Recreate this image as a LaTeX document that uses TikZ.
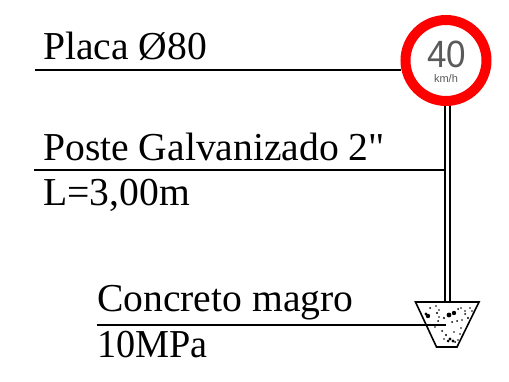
\documentclass[tikz,border=0pt]{standalone}
\usepackage{fontspec}
\newfontfamily\lblfont{Liberation Serif}
\newfontfamily\signfont{Liberation Sans}
\definecolor{signred}{RGB}{255,0,0}
\definecolor{signgrey}{RGB}{90,90,90}
\tikzset{
  lbl/.style={anchor=base west,inner sep=0pt,font=\lblfont\fontsize{39.6}{40}\selectfont,text=black},
  leader/.style={draw=black,line width=1.6pt},
  postline/.style={draw=black,line width=1.5pt},
  base/.style={draw=black,line width=1.6pt,line join=miter},
}
\begin{document}
\begin{tikzpicture}[x=1pt,y=-1pt]
\useasboundingbox[fill=white] (0,0) rectangle (509,382);
% post
\coordinate (pl1) at (445,105); \coordinate (pl2) at (445,302);
\coordinate (pr1) at (450,105); \coordinate (pr2) at (450,302);
\draw[postline] (pl1) -- (pl2);
\draw[postline] (pr1) -- (pr2);
% foundation
\coordinate (ta) at (415.5,302); \coordinate (tb) at (479,302);
\coordinate (tc) at (457,347); \coordinate (td) at (436.5,347);
\draw[base] (ta) -- (tb) -- (tc) -- (td) -- cycle;
\foreach \x/\y/\r in {430/308/1,437/313/1.1,438/321/1,428/316/2.2,426/314/1.6,449/315/2.4,454/313/2.2,444/318/1.2,
  439/317/.9,452/322/1,457/321/1,458/309/1,461/308/.9,465/314/1,468/318/1.1,461/328/.9,465/311/.8,
  442/331/1,446/335/1.1,450/339/1.7,453/341/1.6,448/341/1.5,455/342/1,458/340/.9,460/334/.9,439/310/.8,
  470/308/.8,472/311/.8,435/327/.8,454/332/.9,444/339/.8,462/320/.8,436/306/.8}{
  \fill[black] (\x,\y) circle (\r);
}
% sign
\node[circle,draw=signred,fill=white,line width=10pt,minimum size=81pt,inner sep=0pt] (sign) at (446,60.5) {};
\node[font=\signfont\fontsize{38}{38}\selectfont,text=signgrey,inner sep=0pt,xscale=.92] (speed) at (446.5,54) {40};
\node[font=\signfont\fontsize{11}{11}\selectfont,text=signgrey,inner sep=0pt] (unit) at (446,79) {km/h};
% labels
\node[lbl] (placa) at (43,60) {Placa Ø80};
\node[lbl] (poste) at (43,160.5) {Poste Galvanizado 2"};
\node[lbl] (len) at (43,206) {L=3,00m};
\node[lbl] (conc) at (97,312) {Concreto magro};
\node[lbl,xscale=.965] (mpa) at (97,357) {10MPa};
% leaders
\coordinate (l1) at (35,70); \coordinate (l2) at (34,170); \coordinate (l3) at (97,325);
\coordinate (e2) at (445,170); \coordinate (e3) at (446,325);
\draw[leader] (l1) -- (sign.west |- l1);
\draw[leader] (l2) -- (e2);
\draw[leader] (l3) -- (e3);
\end{tikzpicture}
\end{document}
